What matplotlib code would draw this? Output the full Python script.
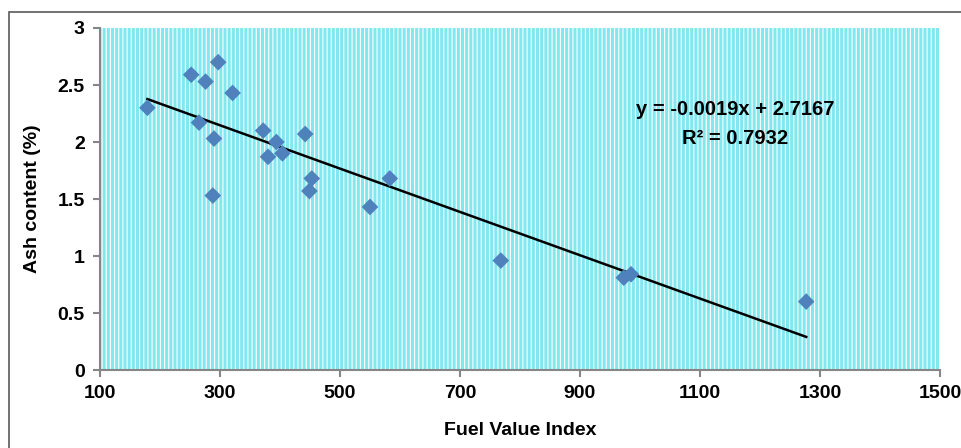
import matplotlib.pyplot as plt
from matplotlib.patches import Rectangle
import numpy as np

plt.rcParams['font.family'] = ['Liberation Sans', 'DejaVu Sans']
plt.rcParams['font.weight'] = 'bold'
plt.rcParams['axes.labelweight'] = 'bold'
plt.rcParams['hatch.linewidth'] = 0.8
plt.rcParams['hatch.color'] = 'white'

# Fuel Value Index vs ash content
fvi = [179, 252, 297, 276, 321, 265, 290, 288, 372, 394, 380, 404, 442, 453, 449,
       583, 550, 768, 973, 985, 1277]
ash = [2.30, 2.59, 2.70, 2.53, 2.43, 2.17, 2.03, 1.53, 2.10, 2.00, 1.87, 1.90, 2.07,
       1.68, 1.57, 1.68, 1.43, 0.96, 0.81, 0.84, 0.60]
slope = -0.0019
intercept = 2.7167
r2 = 0.7932

xticks = [100, 300, 500, 700, 900, 1100, 1300, 1500]
yticks = [0, 0.5, 1, 1.5, 2, 2.5, 3]

fig = plt.figure(figsize=(9.62, 4.48), dpi=100)
ax = fig.add_axes([100 / 962, 78 / 448, 840 / 962, 342 / 448])

# chart frame
fig.patches.append(Rectangle((9 / 962, -0.1), 1.1, (448 - 12) / 448 + 0.1, transform=fig.transFigure,
                             fill=False, edgecolor='#5a5a5a', lw=1.2))

# patterned plot area
ax.set_facecolor('#80e8ee')
ax.add_patch(Rectangle((0, 0), 1, 1, transform=ax.transAxes, facecolor='none',
                       hatch='||||', edgecolor='white', lw=0, zorder=0))

x = np.array(fvi)
xs = np.array([x.min(), x.max()])
ax.plot(xs, slope * xs + intercept, c='black', lw=1.8, zorder=2)
ax.scatter(fvi, ash, marker='D', s=72, c='#4f81bd', edgecolors='none', zorder=3)

ax.text(1158, 2.285, f"y = {slope}x + {intercept}", ha='center', va='center', fontsize=14.5)
ax.text(1158, 2.035, f"R² = {r2}", ha='center', va='center', fontsize=14.5)

ax.set_xlim(100, 1500)
ax.set_ylim(0, 3)
ax.set_xticks(xticks)
ax.set_yticks(yticks)
ax.set_yticklabels(['0', '0.5', '1', '1.5', '2', '2.5', '3'])
for s in ['top', 'right']:
    ax.spines[s].set_visible(False)
for s in ['left', 'bottom']:
    ax.spines[s].set_color('#868686')
    ax.spines[s].set_linewidth(1.5)
ax.tick_params(direction='out', length=5, width=1.5, color='#868686', labelsize=14, pad=6)
ax.set_xlabel("Fuel Value Index", fontsize=14, labelpad=14)
ax.set_ylabel("Ash content (%)", fontsize=14, labelpad=12)

fig.savefig("out.png", dpi=100)
